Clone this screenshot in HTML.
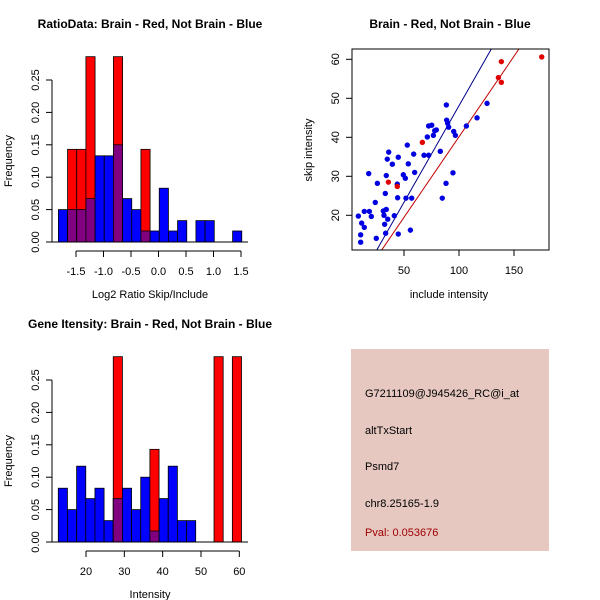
<!DOCTYPE html>
<html><head><meta charset="utf-8"><style>
html,body{margin:0;padding:0;background:#fff}
svg{display:block;font-family:"Liberation Sans",sans-serif}
</style></head><body>
<svg id="c" width="600" height="600" xmlns="http://www.w3.org/2000/svg">
<rect width="600" height="600" fill="#fff"/>
<g>
<rect x="351" y="349" width="198" height="202" fill="#e6c8c1"/>
<text x="365" y="397" font-size="11" fill="#000">G7211109@J945426_RC@i_at</text>
<text x="365" y="434" font-size="11" fill="#000">altTxStart</text>
<text x="365" y="470" font-size="11" fill="#000">Psmd7</text>
<text x="365" y="507" font-size="11" fill="#000">chr8.25165-1.9</text>
<text x="365" y="536" font-size="11" fill="#a00000">Pval: 0.053676</text>
</g>
</svg>
<script>
// ---- Ratio histogram data ----
const ratioBinStart = -1.82;
const ratioBinWidth = 0.1667;
const ratioBlue = [0.05,0.05,0.05,0.067,0.133,0.133,0.15,0.067,0.05,0.017,0.017,0.083,0.017,0.033,0,0.033,0.033,0,0,0.017];
const ratioRed  = [0,0.143,0.143,0.286,0,0,0.286,0,0,0.143,0,0,0,0,0,0,0,0,0,0];
const ratioXTicks = [-1.5,-1.0,-0.5,0.0,0.5,1.0,1.5];
const ratioXTickLabels = ["-1.5","-1.0","-0.5","0.0","0.5","1.0","1.5"];
const freqTicks = [0,0.05,0.10,0.15,0.20,0.25];
const freqTickLabels = ["0.00","0.05","0.10","0.15","0.20","0.25"];
// ---- Gene intensity histogram data ----
const intBinStart = 12.77;
const intBinWidth = 2.39;
const intBlue = [0.083,0.05,0.117,0.067,0.083,0.033,0.067,0.083,0.05,0.1,0.017,0.067,0.117,0.033,0.033,0,0,0,0,0];
const intRed  = [0,0,0,0,0,0,0.286,0,0,0,0.143,0,0,0,0,0,0,0.286,0,0.286];
const intXTicks = [20,30,40,50,60];
const intXTickLabels = ["20","30","40","50","60"];
// ---- Scatter data ----
const blueX = [8.5,10.6,10.6,11.5,13.9,13.9,17.9,18.5,20.3,23.9,24.8,25.8,31.2,31.8,32.4,33.0,33.3,33.9,33.9,34.8,35.2,36.1,39.4,41.2,43.9,44.2,44.8,44.8,49.4,51.2,51.8,53.0,53.9,55.8,57.0,58.8,59.7,68.2,71.2,72.4,72.4,75.2,76.7,77.9,79.4,83.0,84.8,88.2,88.5,88.8,89.7,90.6,94.5,95.2,96.7,106.7,116.4,125.5];
const blueY = [19.8,15.0,13.1,18.0,16.9,21.0,30.7,21.0,19.7,23.3,14.1,28.2,21.1,20.0,17.7,25.6,15.4,30.2,21.5,34.4,19.0,36.2,33.1,19.9,28.0,24.5,15.2,34.9,30.4,29.5,24.4,38.0,33.2,16.2,24.4,35.7,31.0,35.4,40.1,35.4,42.9,43.1,40.5,41.7,41.9,36.4,24.4,28.2,48.3,44.4,43.6,42.6,30.9,41.5,40.5,42.9,45.0,48.7];
const redX = [35.8,43.9,66.7,135.8,138.5,138.5,175.2];
const redY = [28.5,27.4,38.7,55.3,59.4,54.1,60.6];
const blueFit = [-1.4,0.495];   // intercept, slope
const redFit  = [-1.17,0.413];
const scXTicks = [50,100,150];
const scXTickLabels = ["50","100","150"];
const scYTicks = [20,30,40,50,60];
const scYTickLabels = ["20","30","40","50","60"];

const NS="http://www.w3.org/2000/svg";
const svg=document.getElementById('c');
function mk(tag,attrs,parent,text){const e=document.createElementNS(NS,tag);for(const k in attrs)e.setAttribute(k,attrs[k]);if(text!==undefined)e.textContent=text;(parent||svg).appendChild(e);return e;}

function histogram(cfg){
  const g=mk('g',{});
  
  
  const xs=v=>cfg.x0px+(v-cfg.x0)*cfg.xk;
  const ys=v=>cfg.y0px-v*cfg.yk;
  const n=cfg.blue.length;
  for(let i=0;i<n;i++){
    const a=cfg.binStart+i*cfg.binWidth,b=a+cfg.binWidth;
    const x1=xs(a),x2=xs(b);
    const bv=cfg.blue[i],rv=cfg.red[i];
    if(bv>0){const r=mk('rect',{x:x1,y:ys(bv),width:x2-x1,height:ys(0)-ys(bv),fill:'#0000ff',stroke:'#000','stroke-width':0.8},g);
      
      }
    if(rv>0){const r=mk('rect',{x:x1,y:ys(rv),width:x2-x1,height:ys(0)-ys(rv),fill:'#ff0000',stroke:'#000','stroke-width':0.8},g);
      
      }
    if(bv>0&&rv>0){const m=Math.min(bv,rv);const r=mk('rect',{x:x1,y:ys(m),width:x2-x1,height:ys(0)-ys(m),fill:'#800080',stroke:'#000','stroke-width':0.8},g);
      
      }
  }
  mk('line',{x1:cfg.yAxisX,x2:cfg.yAxisX+196,y1:ys(0),y2:ys(0),stroke:'#000'},g);
  // y axis
  const ya=mk('g',{},g);
  
  
  mk('line',{x1:cfg.yAxisX,x2:cfg.yAxisX,y1:ys(0),y2:ys(0.25),stroke:'#000'},ya);
  freqTicks.forEach((t,i)=>{
    mk('line',{x1:cfg.yAxisX-6,x2:cfg.yAxisX,y1:ys(t),y2:ys(t),stroke:'#000'},ya);
    const tx=mk('text',{x:cfg.yAxisX-13,y:ys(t),'font-size':11,'text-anchor':'middle',transform:`rotate(-90 ${cfg.yAxisX-13} ${ys(t)})`},ya,freqTickLabels[i]);
    
    
  });
  // x axis
  const xa=mk('g',{},g);
  
  
  const ay=ys(0)+9;
  mk('line',{x1:xs(cfg.xticks[0]),x2:xs(cfg.xticks[cfg.xticks.length-1]),y1:ay,y2:ay,stroke:'#000'},xa);
  cfg.xticks.forEach((t,i)=>{
    mk('line',{x1:xs(t),x2:xs(t),y1:ay,y2:ay+6,stroke:'#000'},xa);
    const tx=mk('text',{x:xs(t),y:ay+24,'font-size':11,'text-anchor':'middle'},xa,cfg.xlabels[i]);
    
    
  });
  const t1=mk('text',{x:150,y:cfg.titleY,'font-size':12,'font-weight':'bold','text-anchor':'middle'},g,cfg.title);
  
  
  const t2=mk('text',{x:150,y:cfg.xlabY,'font-size':11,'text-anchor':'middle'},g,cfg.xlab);
  
  
  const cy=cfg.y0px-81;
  const t3=mk('text',{x:12,y:cy,'font-size':11,'text-anchor':'middle',transform:`rotate(-90 12 ${cy})`},g,'Frequency');
  
  
}

histogram({name:'ratio-histogram',blue:ratioBlue,red:ratioRed,binStart:ratioBinStart,binWidth:ratioBinWidth,
  x0:-1.5,x0px:76,xk:55,y0px:242,yk:648,yAxisX:52,xticks:ratioXTicks,xlabels:ratioXTickLabels,
  title:'RatioData: Brain - Red, Not Brain - Blue',titleY:28,xlab:'Log2 Ratio Skip/Include',xlabY:298});
histogram({name:'intensity-histogram',blue:intBlue,red:intRed,binStart:intBinStart,binWidth:intBinWidth,
  x0:20,x0px:86,xk:3.833,y0px:542,yk:648,yAxisX:52,xticks:intXTicks,xlabels:intXTickLabels,
  title:'Gene Itensity: Brain - Red, Not Brain - Blue',titleY:328,xlab:'Intensity',xlabY:598});

// scatter
(function(){
  const g=mk('g',{});
  
  
  const L=352,T=49,R=549,B=250;
  const xs=v=>349+v*1.1;
  const ys=v=>215.3-(v-20)*3.9;
  const defs=mk('defs',{},g);
  const cp=mk('clipPath',{id:'clipS'},defs);
  mk('rect',{x:L,y:T,width:R-L,height:B-T},cp);
  const pg=mk('g',{'clip-path':'url(#clipS)'},g);
  function fit(f,col,name){
    const x1=0,x2=200;
    const l=mk('line',{x1:xs(x1),y1:ys(f[0]+f[1]*x1),x2:xs(x2),y2:ys(f[0]+f[1]*x2),stroke:col,'stroke-width':1},pg);
    
    
  }
  fit(blueFit,'#00008b','blue-fit-line');
  fit(redFit,'#c00000','red-fit-line');
  blueX.forEach((x,i)=>{const c=mk('circle',{cx:xs(x),cy:ys(blueY[i]),r:2.7,fill:'#0000e0'},pg);
    
    });
  redX.forEach((x,i)=>{const c=mk('circle',{cx:xs(x),cy:ys(redY[i]),r:2.7,fill:'#e00000'},pg);
    
    });
  mk('rect',{x:L,y:T,width:R-L,height:B-T,fill:'none',stroke:'#000'},g);
  scXTicks.forEach((t,i)=>{
    mk('line',{x1:xs(t),x2:xs(t),y1:B,y2:B+6,stroke:'#000'},g);
    const tx=mk('text',{x:xs(t),y:B+24,'font-size':11,'text-anchor':'middle'},g,scXTickLabels[i]);
    
    
  });
  scYTicks.forEach((t,i)=>{
    mk('line',{x1:L-6,x2:L,y1:ys(t),y2:ys(t),stroke:'#000'},g);
    const tx=mk('text',{x:L-13,y:ys(t),'font-size':11,'text-anchor':'middle',transform:`rotate(-90 ${L-13} ${ys(t)})`},g,scYTickLabels[i]);
    
    
  });
  const t1=mk('text',{x:450,y:28,'font-size':12,'font-weight':'bold','text-anchor':'middle'},g,'Brain - Red, Not Brain - Blue');
  
  
  const t2=mk('text',{x:449,y:298,'font-size':11,'text-anchor':'middle'},g,'include intensity');
  
  
  const t3=mk('text',{x:312,y:150,'font-size':11,'text-anchor':'middle',transform:'rotate(-90 312 150)'},g,'skip intensity');
  
  
})();
</script>
</body></html>
